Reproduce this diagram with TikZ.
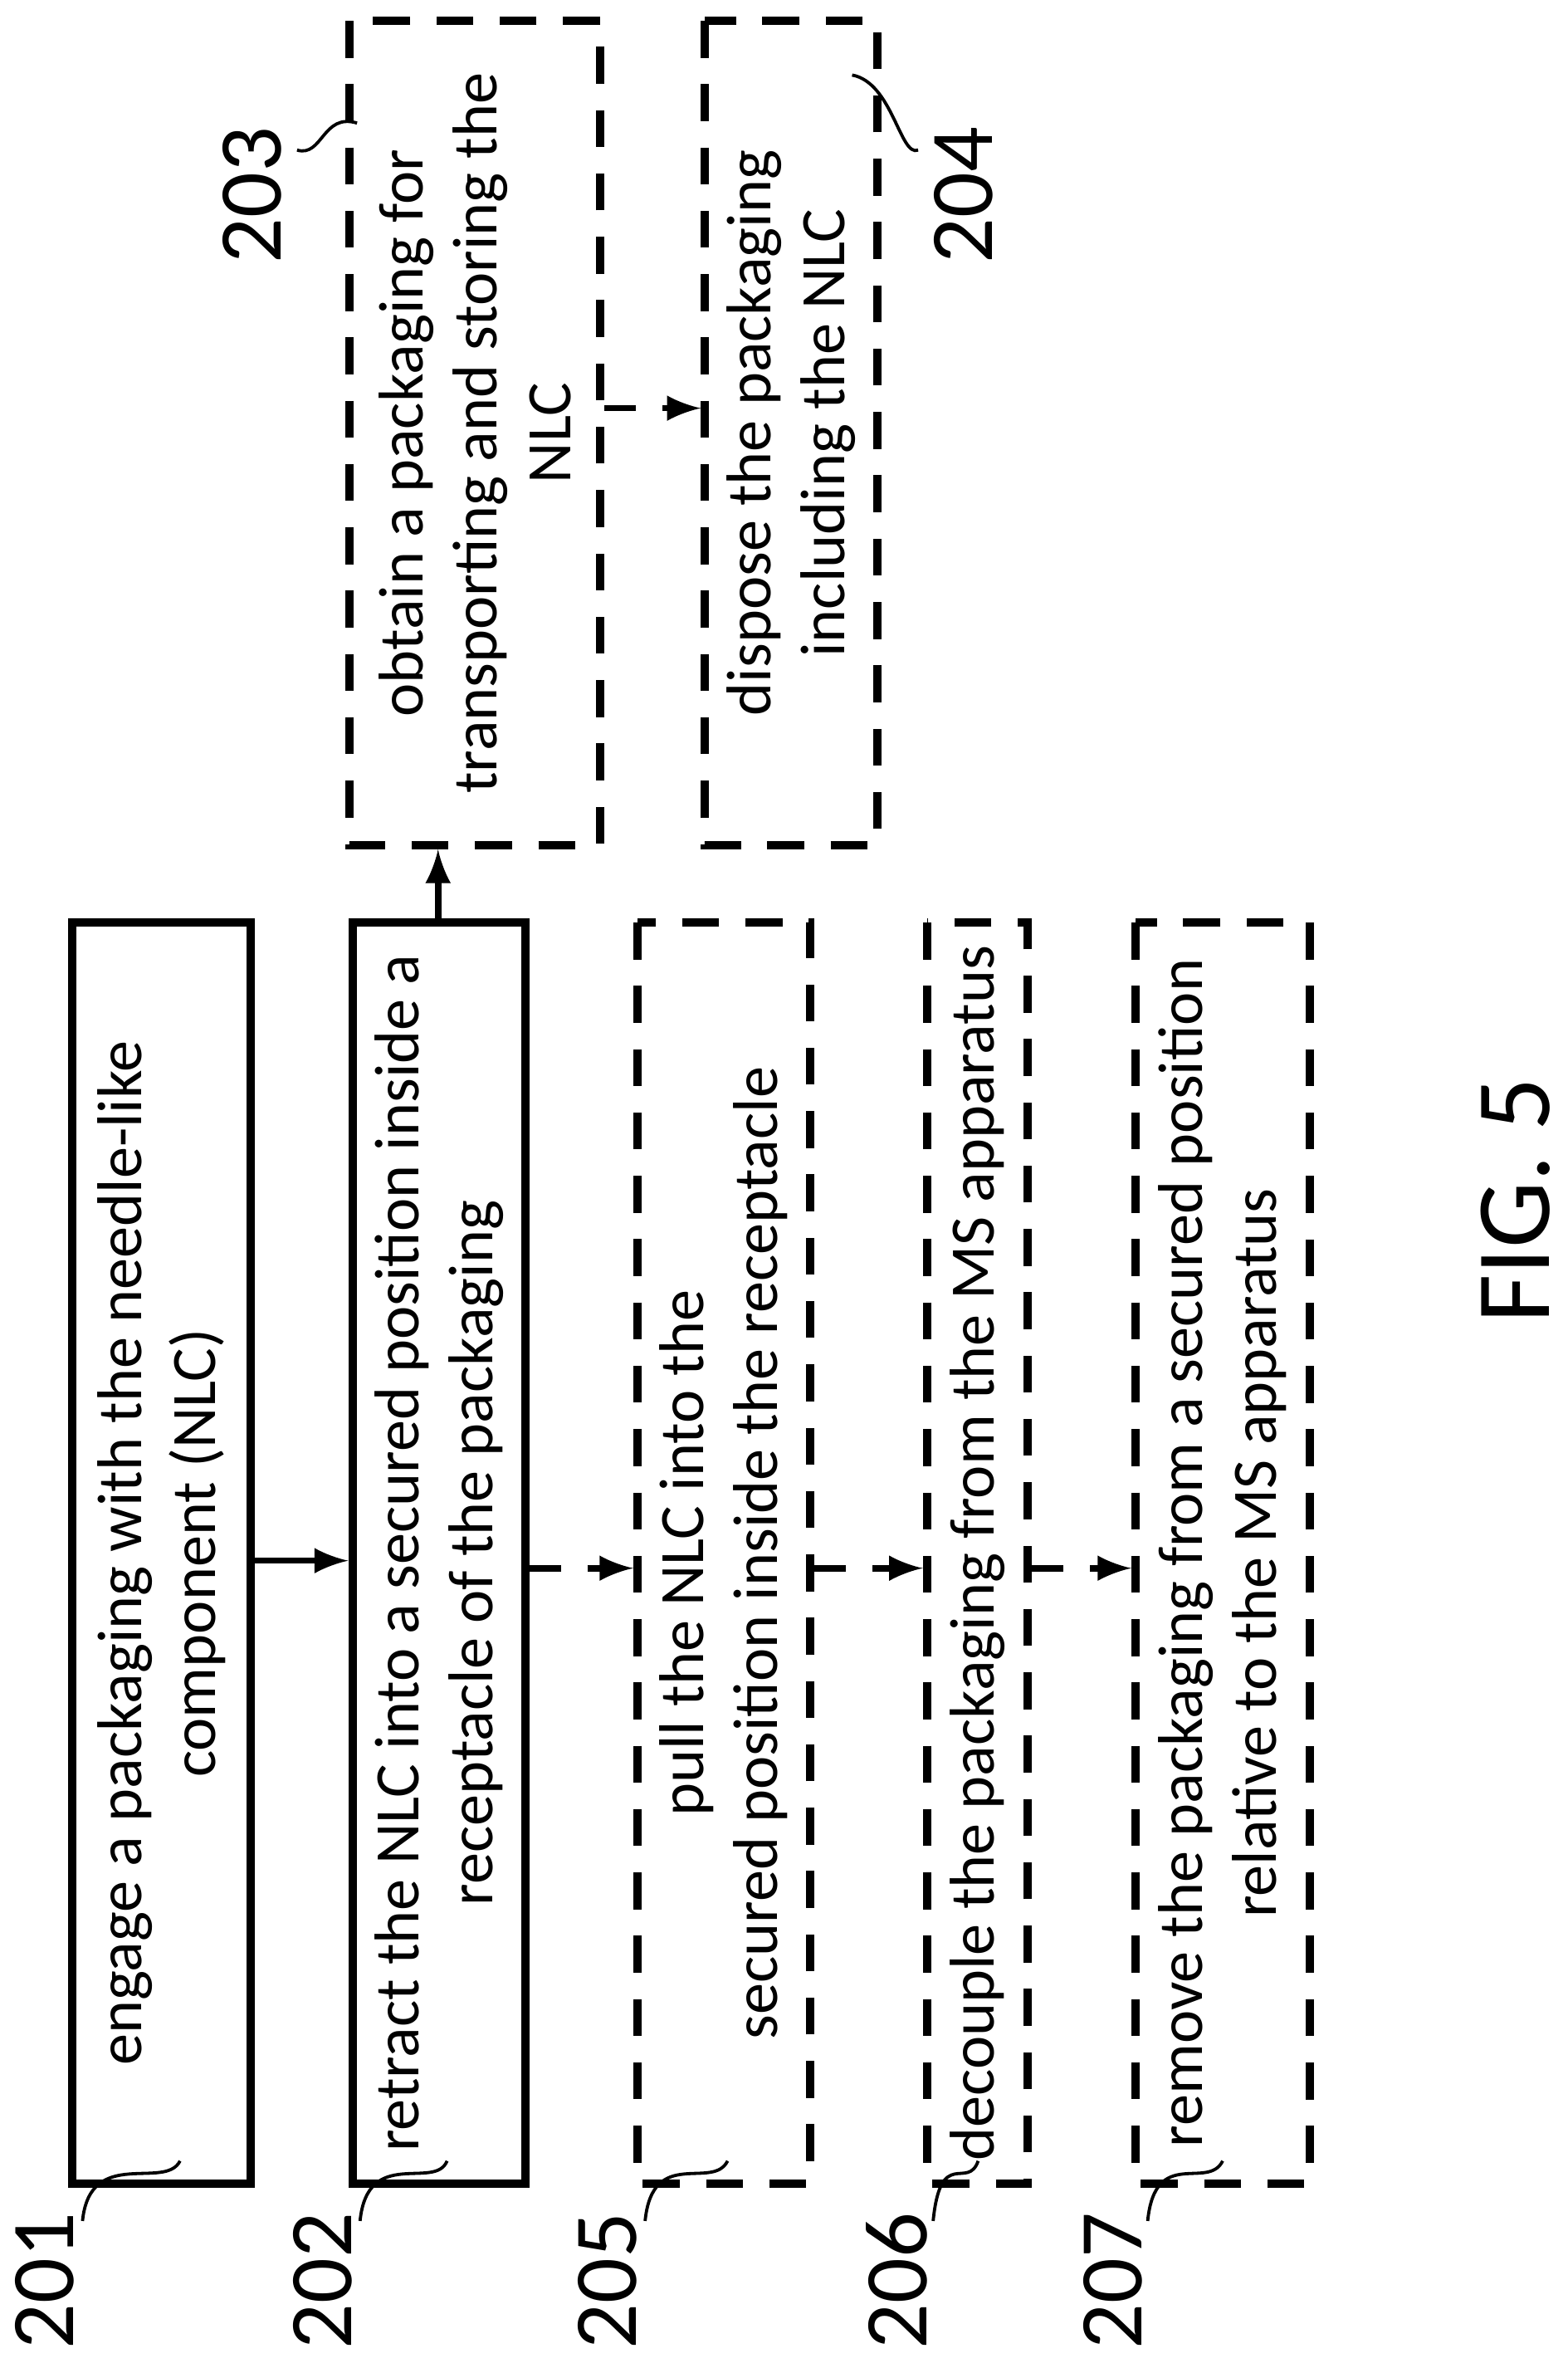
\documentclass[tikz,border=0pt]{standalone}
\usepackage{fontspec}
\setmainfont{Carlito}
\begin{document}
\begin{tikzpicture}[x=0.01cm,y=-0.01cm,
        box/.style={draw, line width=1.6pt, rotate=90, align=center, font=\fontsize{12}{14}\selectfont, inner sep=2pt},
        opt/.style={box, dash pattern=on 7pt off 5pt},
        arrow/.style={-latex, line width=1.2pt},
        darrow/.style={arrow, dash pattern=on 6pt off 5pt},
        num/.style={rotate=90, font=\fontsize{17}{17}\selectfont},
        lead/.style={line width=0.6pt}
    ]
    \useasboundingbox (0,0) rectangle (1045,1578);

    % main steps
    \node[box, minimum width=8.4cm, minimum height=1.19cm] (s201) at (107.5,1035) {engage a packaging with the needle-like\\component (NLC)};
    \node[box, minimum width=8.4cm, minimum height=1.15cm] (s202) at (292.5,1035) {retract the NLC into a secured position inside a\\receptacle of the packaging};
    \node[opt, minimum width=8.4cm, minimum height=1.15cm] (s205) at (482.5,1035) {pull the NLC into the\\secured position inside the receptacle};
    \node[opt, minimum width=8.4cm, minimum height=0.67cm] (s206) at (651.5,1035) {decouple the packaging from the MS apparatus};
    \node[opt, minimum width=8.4cm, minimum height=1.16cm] (s207) at (815,1035) {remove the packaging from a secured position\\relative to the MS apparatus};
    \node[opt, minimum width=5.49cm, minimum height=1.67cm] (s203) at (316.5,288.5) {obtain a packaging for\\transporting and storing the\\NLC};
    \node[opt, minimum width=5.49cm, minimum height=1.15cm] (s204) at (527.5,288.5) {dispose the packaging\\including the NLC};

    % connectors
    \draw[arrow] (s201.south |- 0,1040) -- (s202.north |- 0,1040);
    \draw[darrow] (s202.south |- 0,1045) -- (s205.north |- 0,1045);
    \draw[darrow] (s205.south |- 0,1045) -- (s206.north |- 0,1045);
    \draw[darrow] (s206.south |- 0,1045) -- (s207.north |- 0,1045);
    \draw[arrow] (s202.east -| 292,0) -- (s203.west -| 292,0);
    \draw[darrow] (s203.south |- 0,272) -- (s204.north |- 0,272);

    % reference numerals
    \node[num] (n201) at (30,1520) {201};
    \node[num] (n202) at (215,1520) {202};
    \node[num] (n205) at (405,1520) {205};
    \node[num] (n206) at (598,1520) {206};
    \node[num] (n207) at (742,1520) {207};
    \node[num] (n203) at (168,130) {203};
    \node[num] (n204) at (642,130) {204};
    \draw[lead] (55,1480) .. controls (60,1430) and (110,1460) .. (120,1440);
    \draw[lead] (240,1480) .. controls (245,1430) and (290,1460) .. (298,1440);
    \draw[lead] (430,1480) .. controls (435,1430) and (475,1460) .. (485,1440);
    \draw[lead] (622,1480) .. controls (627,1430) and (645,1460) .. (652,1440);
    \draw[lead] (765,1480) .. controls (770,1430) and (805,1460) .. (815,1440);
    \draw[lead] (198,100) .. controls (215,105) and (215,75) .. (238,82);
    \draw[lead] (612,100) .. controls (600,105) and (595,55) .. (568,50);

    \node[rotate=90, font=\fontsize{20}{20}\selectfont] (fig) at (1010,800) {FIG. 5};
\end{tikzpicture}
\end{document}
